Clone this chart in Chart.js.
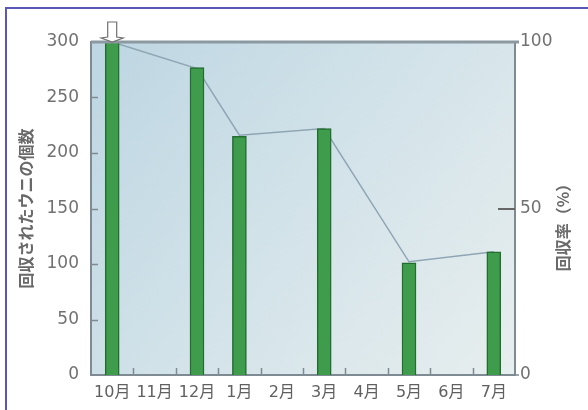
<!DOCTYPE html>
<html lang="ja">
<head>
<meta charset="utf-8">
<title>回収されたウニの個数と回収率</title>
<script src="https://cdn.jsdelivr.net/npm/chart.js@4.4.1/dist/chart.umd.min.js"></script>
<style>
  html, body { margin: 0; padding: 0; background: #ffffff; }
  #wrap { position: relative; width: 588px; height: 410px; }
</style>
</head>
<body>
<div id="wrap"><canvas id="chart"></canvas></div>
<script>
// Months on the horizontal axis
const months = ['10月', '11月', '12月', '1月', '2月', '3月', '4月', '5月', '6月', '7月'];
// Number of sea urchins recovered (left axis); null = no survey that month
const recoveredCount = [300, null, 277, 215, null, 222, null, 101, null, 111];
// Recovery rate in percent (right axis)
const recoveryRate = [100, null, 92, 72, null, 74, null, 34, null, 37];
// Axis tick values
const countTicks = [0, 50, 100, 150, 200, 250, 300];
const rateTicks = [0, 50, 100];

const FONT = "'DejaVu Sans', 'Noto Sans CJK JP', sans-serif";
const JP_FONT = "'Noto Sans CJK JP', 'DejaVu Sans', sans-serif";
const AXIS = '#7e8b92';

// Page frame, plot background, inward tick marks, the release arrow and the right-hand title
const decorations = {
  id: 'decorations',
  beforeDraw(chart) {
    const ctx = chart.ctx;
    const a = chart.chartArea;
    ctx.save();
    ctx.fillStyle = '#ffffff';
    ctx.fillRect(0, 0, chart.width, chart.height);
    ctx.strokeStyle = '#5a58b6';
    ctx.lineWidth = 2;
    ctx.beginPath();
    ctx.moveTo(6, chart.height);
    ctx.lineTo(6, 8);
    ctx.lineTo(chart.width, 8);
    ctx.stroke();
    const g = ctx.createLinearGradient(a.left, a.top, a.right, a.bottom);
    g.addColorStop(0, '#bdd6e2');
    g.addColorStop(0.55, '#d5e4ea');
    g.addColorStop(1, '#e7eeee');
    ctx.fillStyle = g;
    ctx.fillRect(a.left, a.top, a.right - a.left, a.bottom - a.top);
    ctx.restore();
  },
  afterDatasetsDraw(chart) {
    const ctx = chart.ctx;
    const a = chart.chartArea;
    const x = chart.scales.x, y = chart.scales.y, y1 = chart.scales.y1;
    ctx.save();
    // heavy top edge of the plot
    ctx.strokeStyle = '#8c99a0';
    ctx.lineWidth = 3;
    ctx.beginPath();
    ctx.moveTo(a.left, a.top);
    ctx.lineTo(a.right + 4, a.top);
    ctx.stroke();
    // inward ticks on the left axis
    ctx.strokeStyle = AXIS;
    ctx.lineWidth = 1.5;
    ctx.beginPath();
    countTicks.slice(1, -1).forEach(v => {
      const py = Math.round(y.getPixelForValue(v)) + 0.5;
      ctx.moveTo(a.left, py);
      ctx.lineTo(a.left + 7, py);
    });
    // upward ticks between months on the bottom axis
    for (let i = 1; i < months.length; i++) {
      const px = Math.round((x.getPixelForValue(i - 1) + x.getPixelForValue(i)) / 2) + 0.5;
      ctx.moveTo(px, a.bottom);
      ctx.lineTo(px, a.bottom - 7);
    }
    ctx.moveTo(a.right, a.bottom);
    ctx.lineTo(a.right + 4, a.bottom);
    ctx.stroke();
    // middle tick on the right axis
    ctx.strokeStyle = '#666';
    ctx.lineWidth = 2;
    ctx.beginPath();
    const p50 = Math.round(y1.getPixelForValue(rateTicks[1]));
    ctx.moveTo(a.right - 17, p50);
    ctx.lineTo(a.right, p50);
    ctx.stroke();
    // release arrow above the first bar
    const bar = chart.getDatasetMeta(0).data[0];
    const bx = bar.x, by = bar.y;
    ctx.fillStyle = '#ffffff';
    ctx.strokeStyle = '#707070';
    ctx.lineWidth = 1.2;
    ctx.beginPath();
    ctx.moveTo(bx - 4.5, by - 20);
    ctx.lineTo(bx + 4.5, by - 20);
    ctx.lineTo(bx + 4.5, by - 5);
    ctx.lineTo(bx + 11, by - 4);
    ctx.lineTo(bx, by);
    ctx.lineTo(bx - 11, by - 4);
    ctx.lineTo(bx - 4.5, by - 5);
    ctx.closePath();
    ctx.fill();
    ctx.stroke();
    // right axis title, reading bottom to top
    ctx.translate(a.right + 48, (a.top + a.bottom) / 2 + 15);
    ctx.rotate(-Math.PI / 2);
    ctx.font = 'bold 16px ' + JP_FONT;
    ctx.fillStyle = '#6a6a6a';
    ctx.textAlign = 'center';
    ctx.textBaseline = 'middle';
    ctx.fillText('回収率（%）', 0, 0);
    ctx.restore();
  }
};

new Chart(document.getElementById('chart'), {
  data: {
    labels: months,
    datasets: [
      {
        type: 'bar',
        label: '回収されたウニの個数',
        data: recoveredCount,
        yAxisID: 'y',
        backgroundColor: '#3f9c4c',
        borderColor: '#236d2f',
        borderWidth: 1.5,
        barThickness: 14,
        order: 1
      },
      {
        type: 'line',
        label: '回収率',
        data: recoveryRate,
        yAxisID: 'y1',
        borderColor: '#8fa5b4',
        borderWidth: 1.5,
        pointRadius: 0,
        tension: 0,
        spanGaps: true,
        order: 2
      }
    ]
  },
  options: {
    responsive: true,
    maintainAspectRatio: false,
    animation: false,
    devicePixelRatio: 1,
    layout: { padding: { top: 42, left: 0, right: 0, bottom: 0 } },
    plugins: { legend: { display: false }, tooltip: { enabled: false } },
    scales: {
      x: {
        type: 'category',
        position: 'bottom',
        grid: { display: false, drawTicks: false },
        border: { display: true, color: AXIS, width: 2 },
        ticks: {
          autoSkip: false, maxRotation: 0, padding: 8,
          color: '#606060', font: { family: FONT, size: 16 }
        },
        afterFit(s) { s.height = 35; }
      },
      y: {
        position: 'left',
        min: 0, max: 300,
        grid: { display: false, drawTicks: false },
        border: { display: true, color: AXIS, width: 2 },
        afterBuildTicks(s) { s.ticks = countTicks.map(v => ({ value: v })); },
        ticks: { padding: 12, color: '#717171', font: { family: FONT, size: 17 } },
        title: {
          display: true, text: '回収されたウニの個数', color: '#686868',
          font: { family: JP_FONT, size: 16, weight: 'bold' },
          padding: { top: 16, bottom: 0 }
        },
        afterFit(s) { s.width = 91; }
      },
      y1: {
        position: 'right',
        min: 0, max: 100,
        grid: { display: false, drawTicks: false },
        border: { display: true, color: AXIS, width: 2 },
        afterBuildTicks(s) { s.ticks = rateTicks.map(v => ({ value: v })); },
        ticks: { padding: 5, color: '#717171', font: { family: FONT, size: 17 } },
        afterFit(s) { s.width = 73; }
      }
    }
  },
  plugins: [decorations]
});
</script>
</body>
</html>
